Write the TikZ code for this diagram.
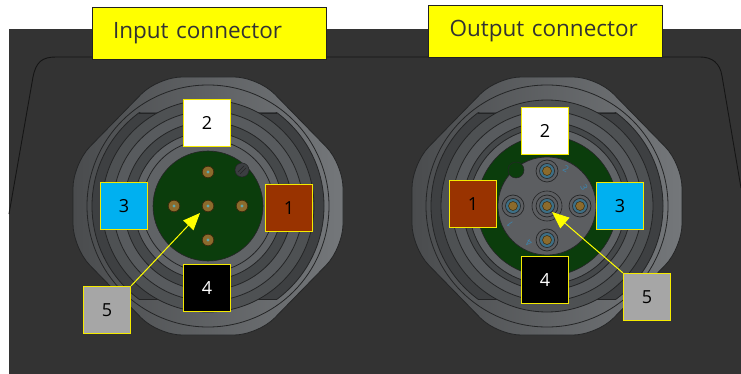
\documentclass[tikz,border=0pt]{standalone}
\usepackage{fontspec}
\setmainfont{Open Sans}
\usetikzlibrary{arrows.meta}
\definecolor{bgdark}{HTML}{333333}
\definecolor{panelline}{HTML}{151515}
\definecolor{nutL}{HTML}{4A4C4E}
\definecolor{nutR}{HTML}{74777A}
\definecolor{nutline}{HTML}{242526}
\definecolor{bandc}{HTML}{3E4042}
\definecolor{ringA}{HTML}{4E5153}
\definecolor{ringB}{HTML}{585B5E}
\definecolor{ringC}{HTML}{45484A}
\definecolor{ringD}{HTML}{606366}
\definecolor{pcb}{HTML}{0B3D0C}
\definecolor{insertc}{HTML}{5C5E61}
\definecolor{goldc}{HTML}{8C6B2C}
\definecolor{goldline}{HTML}{3A2A0C}
\definecolor{pincore}{HTML}{5FA8B0}
\definecolor{sockc}{HTML}{3D6F86}
\definecolor{engr}{HTML}{3C86B0}
\definecolor{titley}{HTML}{FFFF00}
\definecolor{titleline}{HTML}{222222}
\definecolor{titletext}{HTML}{333333}
\definecolor{laby}{HTML}{F5EB00}
\definecolor{brownc}{HTML}{993300}
\definecolor{bluec}{HTML}{00B0F0}
\definecolor{greyc}{HTML}{A6A6A6}
\definecolor{arrowy}{HTML}{FFFF00}
\tikzset{
  titlebox/.style={draw=titleline, line width=0.9pt, fill=titley, text=titletext,
    minimum height=52pt, text width=192pt, inner xsep=21pt, align=left,
    font=\fontsize{22.5}{26}\selectfont},
  pinlab/.style={draw=laby, line width=1.2pt, minimum size=47pt, inner sep=0pt,
    font=\fontsize{18}{21}\selectfont},
  callout/.style={draw=arrowy, line width=1pt, -{Triangle[length=17pt,width=14pt]}},
  engrave/.style={text=engr, font=\fontsize{9}{9}\selectfont, inner sep=0pt},
  nutbody/.pic={
    \shadedraw[left color=nutL, right color=nutR, draw=nutline, line width=0.8pt, rounded corners=24pt]
      (-50,-129) -- (50,-129) -- (135,-42) -- (135,42) -- (50,129) -- (-50,129) -- (-135,42) -- (-135,-42) -- cycle;
    \draw[nutline, line width=0.8pt] (0,0) circle (121);
    \begin{scope}
      \clip (-140,-93) rectangle (140,93);
      \filldraw[fill=bandc, draw=nutline, line width=0.8pt] (0,0) circle (116);
    \end{scope}
    \draw[nutline, line width=0.8pt] (-69,-93) -- (69,-93) (-69,93) -- (69,93);
    \filldraw[fill=ringA, draw=nutline, line width=0.8pt] (0,0) circle (106);
    \filldraw[fill=ringB, draw=nutline, line width=0.8pt] (0,0) circle (95);
    \filldraw[fill=ringC, draw=nutline, line width=0.8pt] (0,0) circle (84);
    \filldraw[fill=ringD, draw=nutline, line width=0.8pt] (0,0) circle (74);
  },
  pinA/.pic={
    \filldraw[fill=goldc, draw=goldline, line width=0.7pt] (0,0) circle (5.8);
    \fill[pincore] (0,0) circle (1.6);
  },
  pinB/.pic={
    \draw[nutline, line width=0.7pt] (0,0) circle (11);
    \filldraw[fill=sockc, draw=nutline, line width=0.6pt] (0,0) circle (7.5);
    \filldraw[fill=goldc, draw=goldline, line width=0.5pt] (0,0) circle (4.5);
  }
}
\begin{document}
\begin{tikzpicture}[x=1pt,y=-1pt]
\useasboundingbox (0,0) rectangle (741,374);
\fill[white] (0,0) rectangle (741,374);
\fill[bgdark] (9,29) rectangle (741,374);
% panel outline
\draw[panelline, line width=0.9pt] (9,214) -- (33,77) .. controls (36,62) and (42,57) .. (56,57)
  -- (700,57) .. controls (712,57) and (720,63) .. (722,76) -- (741,188);

% ---------- input connector ----------
\pic at (208,206) {nutbody};
\filldraw[fill=ringD, draw=nutline, line width=0.8pt] (208,206) circle (66);
\filldraw[fill=pcb, draw=nutline, line width=0.6pt] (208,206) circle (55);
\filldraw[fill=insertc!120, draw=nutline, line width=0.5pt] (242,170) circle (7);
\draw[nutline, line width=0.5pt] (238,172) -- (244,166) (240,174) -- (246,168);
\pic at (208,172) {pinA};
\pic at (174,206) {pinA};
\pic at (208,206) {pinA};
\pic at (242,206) {pinA};
\pic at (208,240) {pinA};
\coordinate (inTip) at (200,213);

% ---------- output connector ----------
\pic at (547,206) {nutbody};
\filldraw[fill=ringD, draw=nutline, line width=0.8pt] (547,206) circle (78);
\filldraw[fill=pcb, draw=nutline, line width=0.6pt] (547,206) circle (70);
\filldraw[fill=insertc, draw=nutline, line width=0.7pt] (547,206) circle (49);
\filldraw[fill=pcb, draw=nutline, line width=0.5pt] (516,170) circle (8);
\draw[nutline, line width=0.6pt] (547,206) circle (15);
\pic at (547,171) {pinB};
\pic at (513,206) {pinB};
\pic at (547,206) {pinB};
\pic at (580,206) {pinB};
\pic at (547,240) {pinB};
\node[engrave, rotate=-30] (e2) at (566,169) {2};
\node[engrave, rotate=-65] (e3) at (584,187) {3};
\node[engrave, rotate=125] (e1) at (510,224) {1};
\node[engrave, rotate=150] (e4) at (529,243) {4};
\coordinate (outTip) at (552,212);

% ---------- titles ----------
\node[titlebox] (tin) at (209,33) {Input connector};
\node[titlebox] (tout) at (545.5,31) {Output connector};

% ---------- pin labels ----------
\node[pinlab, fill=white] (i2) at (207,123) {2};
\node[pinlab, fill=bluec] (i3) at (124,206) {3};
\node[pinlab, fill=brownc] (i1) at (289,208) {1};
\node[pinlab, fill=black, text=white] (i4) at (207,288) {4};
\node[pinlab, fill=greyc] (i5) at (107,310) {5};
\draw[callout] (i5.north east) -- (inTip);

\node[pinlab, fill=white] (o2) at (545,131) {2};
\node[pinlab, fill=brownc] (o1) at (473,204) {1};
\node[pinlab, fill=bluec] (o3) at (620,206) {3};
\node[pinlab, fill=black, text=white] (o4) at (545,280) {4};
\node[pinlab, fill=greyc] (o5) at (647,297) {5};
\draw[callout] (o5.north west) -- (outTip);
\end{tikzpicture}
\end{document}
